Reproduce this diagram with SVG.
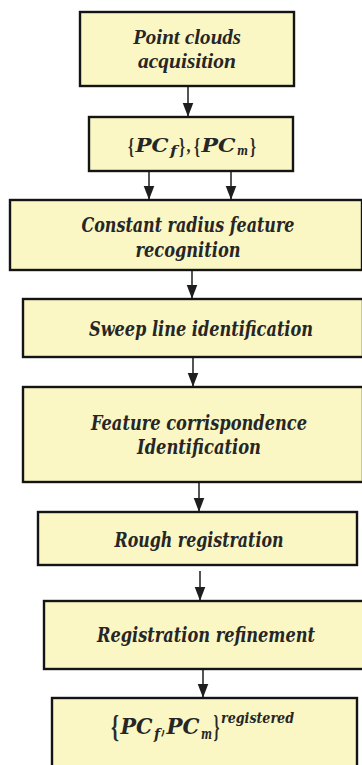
<svg xmlns="http://www.w3.org/2000/svg" width="362" height="765" viewBox="0 0 362 765">
  <defs>
    <marker id="tip" markerUnits="userSpaceOnUse" markerWidth="14" markerHeight="18" refX="16" refY="6.5" orient="auto" viewBox="0 0 17 13">
      <path d="M0,0 L17,6.5 L0,13 Z" fill="#1e1e1e"/>
    </marker>
  </defs>
  <style>
    .box { fill: #fbf7c4; stroke: #141414; stroke-width: 2.4; }
    .lbl { font-family: "DejaVu Serif Condensed", "DejaVu Serif", serif; font-style: italic; font-weight: bold; fill: #262626; text-anchor: middle; }
    .tms { font-family: "Liberation Serif", "Times New Roman", Times, serif; }
    .m { font-family: "DejaVu Serif", serif; fill: #262626; font-style: italic; font-weight: bold; }
    .br { font-family: "Liberation Serif", serif; font-style: normal; font-weight: bold; fill: #2a2a2a; }
    .edge { stroke: #2a2a2a; stroke-width: 1.6; fill: none; marker-end: url(#tip); }
  </style>

  <rect width="362" height="765" fill="#ffffff"/>

  <!-- flow arrows -->
  <g id="connectors">
    <line class="edge" x1="188" y1="87" x2="188" y2="116"/>
    <line class="edge" x1="149" y1="172" x2="149" y2="199"/>
    <line class="edge" x1="231" y1="172" x2="231" y2="199"/>
    <line class="edge" x1="192" y1="271" x2="192" y2="298"/>
    <line class="edge" x1="193" y1="358" x2="193" y2="386"/>
    <line class="edge" x1="199" y1="483" x2="199" y2="511"/>
    <line class="edge" x1="200" y1="571" x2="200" y2="600"/>
    <line class="edge" x1="203" y1="670" x2="203" y2="697"/>
  </g>

  <g id="acquisition">
    <rect class="box" x="80" y="12" width="214" height="74"/>
    <text class="lbl tms" x="187" y="44" font-size="20" textLength="108" lengthAdjust="spacingAndGlyphs">Point clouds</text>
    <text class="lbl tms" x="187" y="68" font-size="20" textLength="98" lengthAdjust="spacingAndGlyphs">acquisition</text>
  </g>

  <g id="input-clouds">
    <rect class="box" x="89" y="117" width="204" height="54"/>
    <text class="br" x="128" y="154" font-size="24" textLength="6" lengthAdjust="spacingAndGlyphs">{</text>
    <text class="m" x="135.5" y="152" font-size="19" textLength="33" lengthAdjust="spacingAndGlyphs">PC</text>
    <text class="m" x="170" y="155" font-size="13" textLength="7" lengthAdjust="spacingAndGlyphs">f</text>
    <text class="br" x="179" y="154" font-size="24" textLength="6" lengthAdjust="spacingAndGlyphs">}</text>
    <text class="br" x="186.5" y="152" font-size="19" textLength="4" lengthAdjust="spacingAndGlyphs">,</text>
    <text class="br" x="194" y="154" font-size="24" textLength="6" lengthAdjust="spacingAndGlyphs">{</text>
    <text class="m" x="201.5" y="152" font-size="19" textLength="34" lengthAdjust="spacingAndGlyphs">PC</text>
    <text class="m" x="237" y="155" font-size="13" textLength="11" lengthAdjust="spacingAndGlyphs">m</text>
    <text class="br" x="250" y="154" font-size="24" textLength="6" lengthAdjust="spacingAndGlyphs">}</text>
  </g>

  <g id="radius-recognition">
    <rect class="box" x="10" y="200" width="352" height="70"/>
    <text class="lbl" x="188" y="232" font-size="20" textLength="213" lengthAdjust="spacingAndGlyphs">Constant radius feature</text>
    <text class="lbl" x="188" y="257" font-size="20" textLength="105" lengthAdjust="spacingAndGlyphs">recognition</text>
  </g>

  <g id="sweep-line">
    <rect class="box" x="23" y="299" width="340" height="58"/>
    <text class="lbl" x="201" y="336" font-size="20" textLength="224" lengthAdjust="spacingAndGlyphs">Sweep line identification</text>
  </g>

  <g id="correspondence">
    <rect class="box" x="23" y="387" width="340" height="95"/>
    <text class="lbl" x="199" y="430" font-size="20" textLength="216" lengthAdjust="spacingAndGlyphs">Feature corrispondence</text>
    <text class="lbl" x="199" y="454" font-size="20" textLength="124" lengthAdjust="spacingAndGlyphs">Identification</text>
  </g>

  <g id="rough-registration">
    <rect class="box" x="38" y="512" width="319" height="53"/>
    <text class="lbl" x="199" y="547" font-size="20" textLength="169" lengthAdjust="spacingAndGlyphs">Rough registration</text>
  </g>

  <g id="refinement">
    <rect class="box" x="44" y="601" width="320" height="68"/>
    <text class="lbl" x="206" y="642" font-size="20" textLength="218" lengthAdjust="spacingAndGlyphs">Registration refinement</text>
  </g>

  <g id="registered-clouds">
    <rect class="box" x="52" y="698" width="305" height="80"/>
    <text class="br" x="111" y="737" font-size="31" textLength="8" lengthAdjust="spacingAndGlyphs">{</text>
    <text class="m" x="120.5" y="734" font-size="22" textLength="32" lengthAdjust="spacingAndGlyphs">PC</text>
    <text class="m" x="154" y="739" font-size="14" textLength="6" lengthAdjust="spacingAndGlyphs">f</text>
    <text class="m" x="161.5" y="734" font-size="22" textLength="3.5" lengthAdjust="spacingAndGlyphs">,</text>
    <text class="m" x="166.5" y="734" font-size="22" textLength="33" lengthAdjust="spacingAndGlyphs">PC</text>
    <text class="m" x="201" y="739" font-size="14" textLength="11" lengthAdjust="spacingAndGlyphs">m</text>
    <text class="br" x="213.5" y="737" font-size="31" textLength="6" lengthAdjust="spacingAndGlyphs">}</text>
    <text class="m" x="221" y="723" font-size="14" textLength="73" lengthAdjust="spacingAndGlyphs">registered</text>
  </g>
</svg>
